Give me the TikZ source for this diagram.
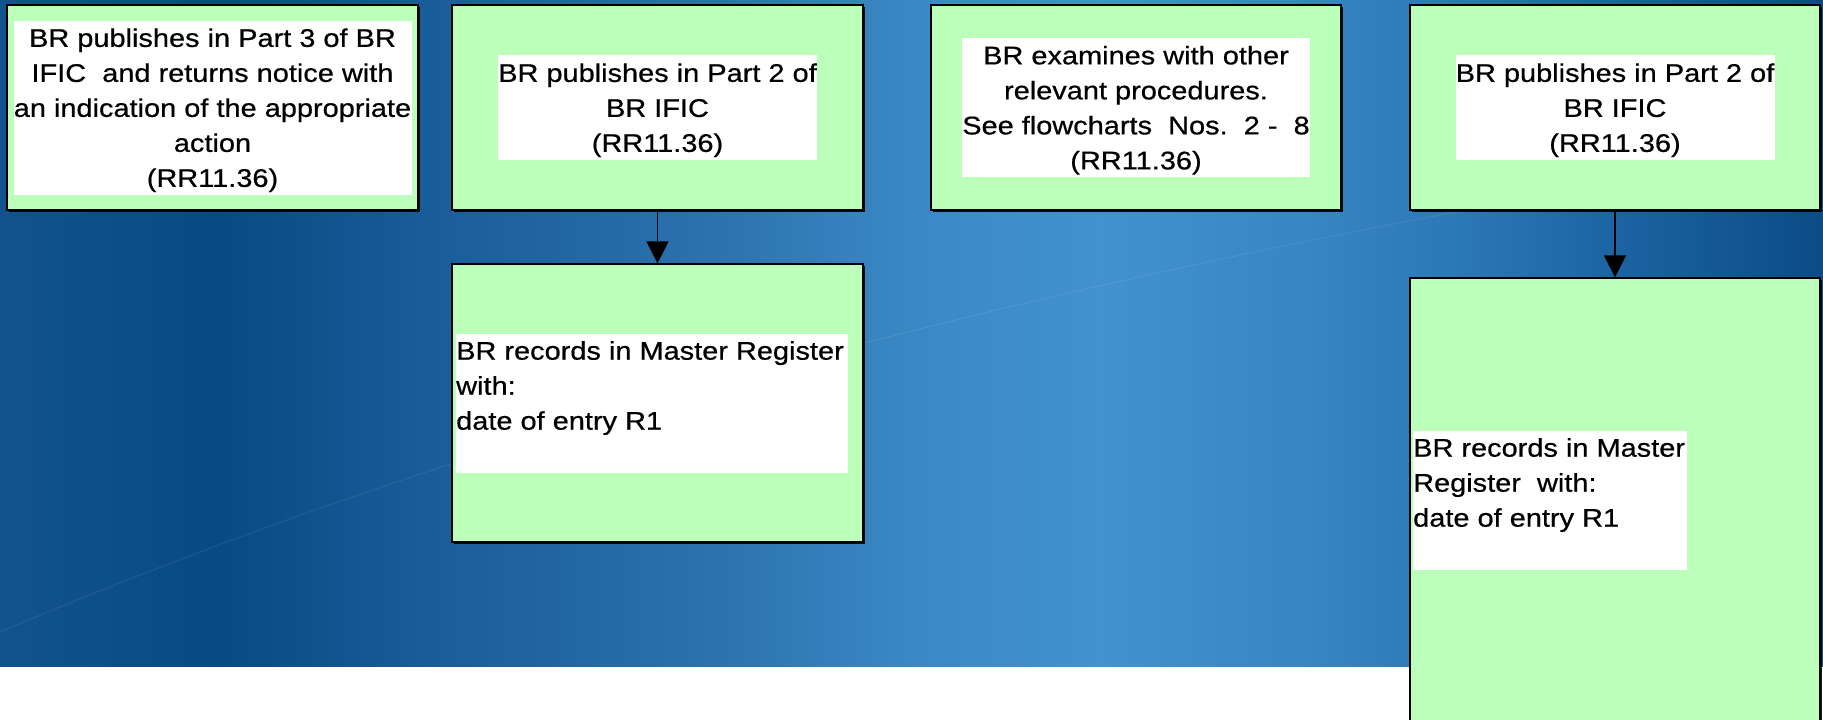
\documentclass[tikz,border=0pt]{standalone}
\usepackage{fontspec}
\setmainfont[FakeStretch=1.135,FakeBold=0.6]{Liberation Sans}
\usetikzlibrary{arrows.meta,shadows,positioning}
\definecolor{boxgreen}{RGB}{187,255,187}
\definecolor{bgA}{HTML}{12538F}
\definecolor{bgB}{HTML}{074A85}
\definecolor{bgC}{HTML}{1A5E9B}
\definecolor{bgD}{HTML}{2A71AD}
\definecolor{bgE}{HTML}{3A87C4}
\definecolor{bgF}{HTML}{4292D0}
\definecolor{bgG}{HTML}{3886C3}
\definecolor{bgH}{HTML}{2D78B6}
\definecolor{bgI}{HTML}{1B64A1}
\definecolor{bgJ}{HTML}{0B4B87}
\pgfdeclarehorizontalshading{slidebg}{100bp}{color(0bp)=(bgA); color(25bp)=(bgA);
  color(31bp)=(bgB); color(37.3bp)=(bgC); color(44.2bp)=(bgD); color(49.7bp)=(bgE);
  color(55.2bp)=(bgF); color(60.7bp)=(bgG); color(64.8bp)=(bgH); color(69.4bp)=(bgI);
  color(75bp)=(bgJ); color(100bp)=(bgJ)}
\newcommand\tallstrut{\rule{0pt}{24pt}}

\begin{document}
\begin{tikzpicture}
   [x=1pt,y=-1pt,
    stepbox/.style={rectangle,draw=black,line width=1.2pt,fill=boxgreen,
      minimum width=411pt,inner sep=0pt,
      drop shadow={shadow xshift=1.5pt,shadow yshift=-1.5pt,fill=black,opacity=0.9}},
    note/.style={rectangle,fill=white,inner sep=0pt,
      font=\fontsize{25.5}{35}\selectfont},
    midnote/.style={note,align=center},
    flow/.style={-{Triangle[width=22pt,length=22pt]},line width=1.2pt}]
\path [use as bounding box] (0,0) rectangle (1823,720);
\clip (0,0) rectangle (1823,720);
\shade [shading=slidebg] (0,0) rectangle (1823,666);
\draw [white,opacity=0.07,line width=1.2pt] (0,632) .. controls (500,420) and (1100,260) .. (1823,150);
\node [stepbox,minimum height=205pt] (pubThree) at (212.5,107.5) {};
\node [stepbox,minimum height=205pt] (pubTwoA) at (657.5,107.5) {};
\node [stepbox,minimum height=278pt] (recA) at (657.5,403) {};
\node [stepbox,minimum height=205pt,minimum width=410pt] (examine) at (1136,107.5) {};
\node [stepbox,minimum height=205pt,minimum width=410pt] (pubTwoB) at (1615,107.5) {};
\node [stepbox,minimum height=462pt,minimum width=410pt] (recB) at (1615,509) {};
\node [midnote,minimum width=398pt,minimum height=174pt] (pubThreeText) at (pubThree.center)
   {\tallstrut BR publishes in Part 3 of BR\\IFIC\ \ and returns notice with\\an indication of the appropriate\\action\\(RR11.36)};
\node [midnote,minimum width=319pt,minimum height=105pt] (pubTwoAText) at (pubTwoA.center)
   {\tallstrut BR publishes in Part 2 of\\BR IFIC\\(RR11.36)};
\node [midnote,minimum width=348pt,minimum height=139pt] (examineText) at (examine.center)
   {\tallstrut BR examines with other\\relevant procedures.\\See flowcharts\ \ Nos.\ \ 2 -\ \ 8\\(RR11.36)};
\node [midnote,minimum width=319pt,minimum height=105pt] (pubTwoBText) at (pubTwoB.center)
   {\tallstrut BR publishes in Part 2 of\\BR IFIC\\(RR11.36)};
\node [note,anchor=north west,inner ysep=7pt] (recAText) at (456,334)
   {\parbox[c][125pt][t]{392pt}{\raggedright BR records in Master Register\\with:\\date of entry R1}};
\node [note,anchor=north west,inner ysep=7pt] (recBText) at (1413,431)
   {\parbox[c][125pt][t]{274pt}{\raggedright BR records in Master\\Register\ \ with:\\date of entry R1}};
\draw [flow] (pubTwoA) -- (recA);
\draw [flow] (pubTwoB) -- (recB);
\end{tikzpicture}
\end{document}
